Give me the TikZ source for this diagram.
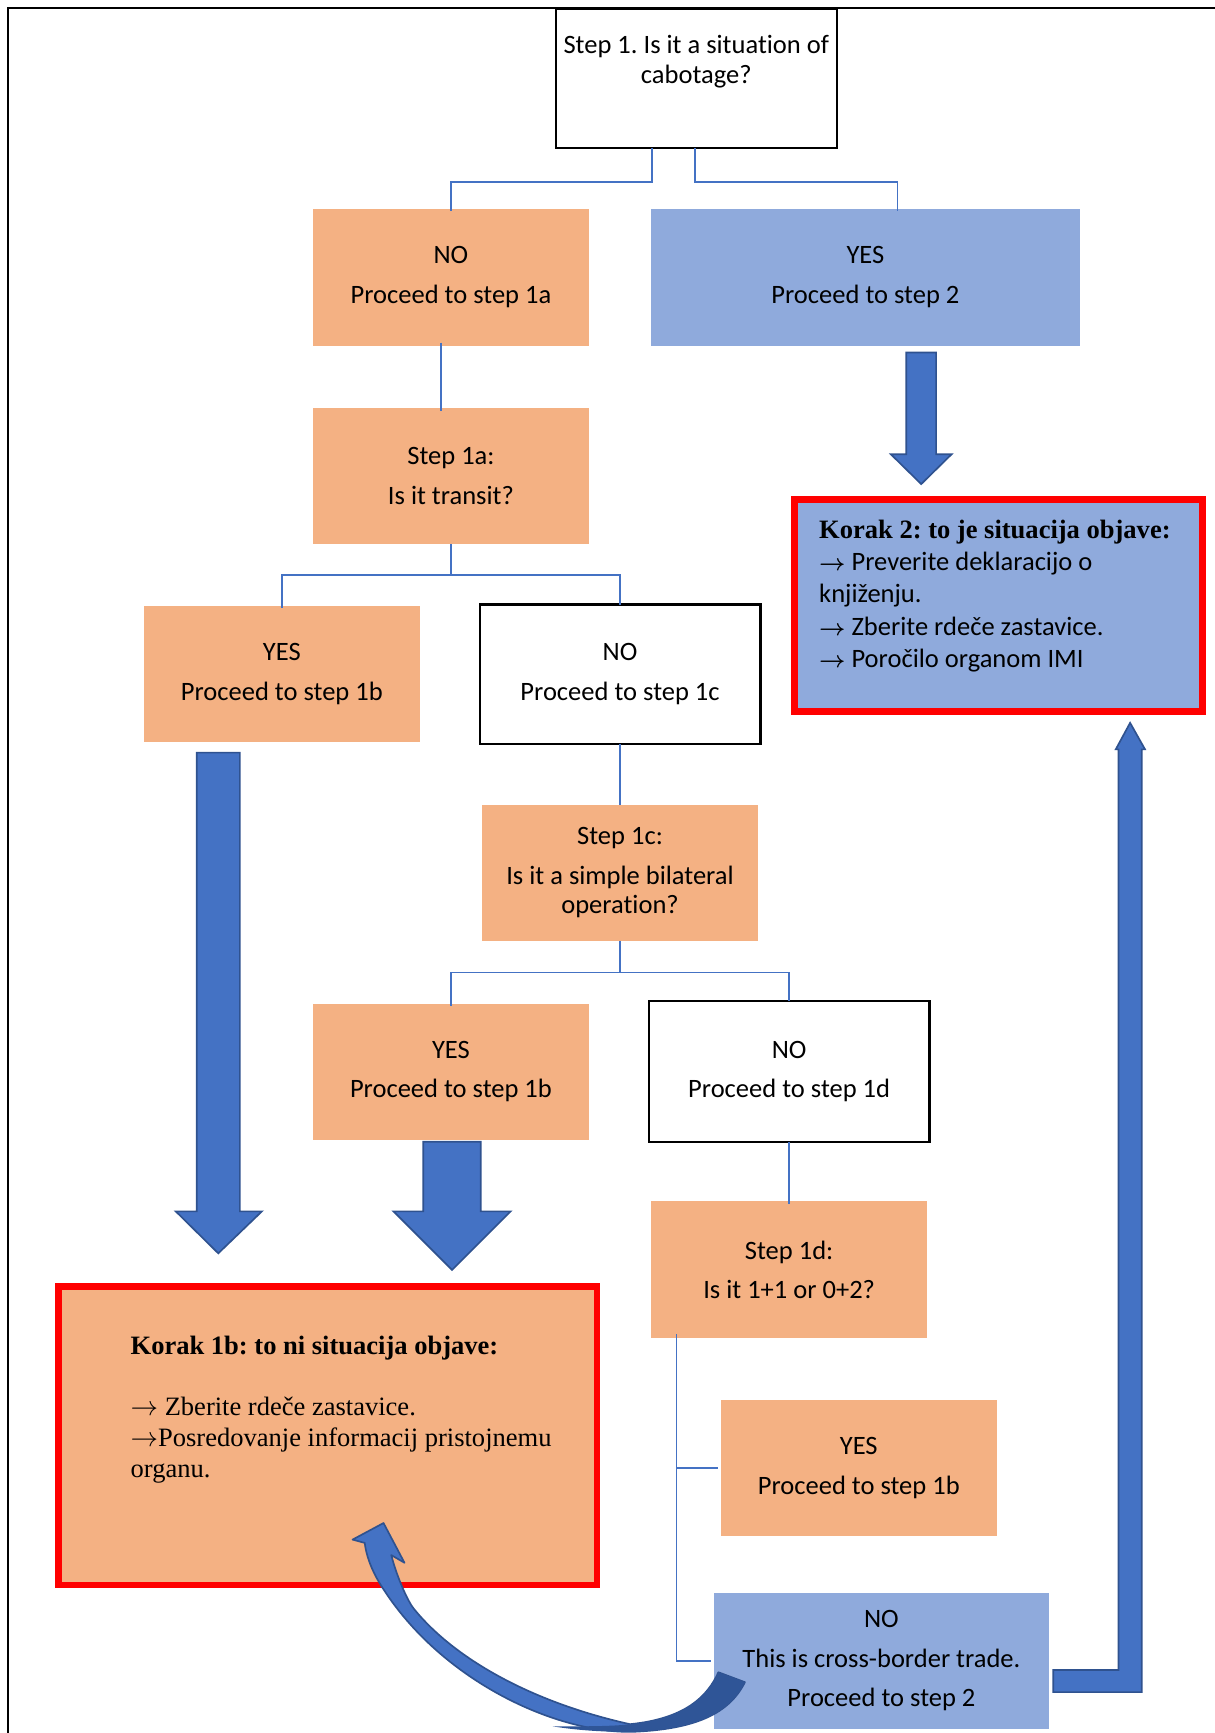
\documentclass[tikz,border=0pt]{standalone}
\usepackage{fontspec}
\setmainfont{Carlito}[Ligatures={NoCommon}]
\newfontfamily\tnr{Liberation Serif}
\definecolor{orng}{HTML}{F4B183}
\definecolor{lblue}{HTML}{8FAADC}
\definecolor{abl}{HTML}{4472C4}
\definecolor{abldk}{HTML}{2F528F}
\definecolor{curvdk}{HTML}{2F5597}
\definecolor{redb}{HTML}{FF0000}
\newcommand{\sarr}{{\fontsize{21}{21}\selectfont\boldmath$\rightarrow$}}
\newcommand{\tarr}{$\rightarrow$}
\tikzset{
  base/.style={rectangle, inner sep=0pt, outer sep=0pt, align=center, font=\fontsize{24}{27}\selectfont},
  obox/.style={base, fill=orng},
  bbox/.style={base, fill=lblue},
  wbox/.style={base, fill=white, draw=black, line width=2pt},
  rbox/.style={rectangle, inner sep=0pt, outer sep=0pt, draw=redb, line width=6pt},
  conn/.style={draw=abl, line width=1.6pt},
  fat/.style={fill=abl, draw=abldk, line width=1.5pt, line join=miter},
}
\begin{document}
\frenchspacing
\begin{tikzpicture}[x=1pt,y=-1pt]
\useasboundingbox (0,0) rectangle (1099,1568);
% frame
\draw[line width=2pt, black] (7,1568) -- (7,7) -- (1099,7);

% nodes
\node[wbox, minimum width=254, minimum height=126] (s1) at (630,71) {};
\node[base, anchor=north] (s1t) at (630,32) {Step 1. Is it a situation of\\cabotage?};
\node[obox, minimum width=250, minimum height=124] (no1) at (408,251) {NO\\[9pt]Proceed to step 1a};
\node[bbox, minimum width=388, minimum height=124] (yes1) at (783,251) {YES\\[9pt]Proceed to step 2};
\node[obox, minimum width=250, minimum height=123] (s1a) at (408,430.5) {Step 1a:\\[9pt]Is it transit?};
\node[obox, minimum width=250, minimum height=123] (yes1a) at (255,609.5) {YES\\[9pt]Proceed to step 1b};
\node[wbox, minimum width=254, minimum height=126] (no1a) at (561,610) {NO\\[9pt]Proceed to step 1c};
\node[obox, minimum width=250, minimum height=123] (s1c) at (561,789.5) {Step 1c:\\[9pt]Is it a simple bilateral\\operation?};
\node[obox, minimum width=250, minimum height=123] (yes1c) at (408,969.5) {YES\\[9pt]Proceed to step 1b};
\node[wbox, minimum width=254, minimum height=127] (no1c) at (714,969.5) {NO\\[9pt]Proceed to step 1d};
\node[obox, minimum width=250, minimum height=124] (s1d) at (714,1149) {Step 1d:\\[9pt]Is it 1+1 or 0+2?};
\node[obox, minimum width=250, minimum height=123] (yes1d) at (777,1328.5) {YES\\[9pt]Proceed to step 1b};
\node[bbox, minimum width=303, minimum height=123] (no1d) at (797.5,1502.5) {NO\\[9pt]This is cross-border trade.\\[9pt]Proceed to step 2};

\node[rbox, fill=orng, minimum width=487, minimum height=270] (k1b) at (296.5,1299) {};
\node[inner sep=0pt, anchor=north west, align=left, font=\tnr\fontsize{24}{28}\selectfont] (k1bt) at (118,1209)
  {\bfseries Korak 1b: to ni situacija objave:\\[27pt]
   \tarr{} Zberite rdeče zastavice.\\
   \tarr{}Posredovanje informacij pristojnemu\\
   organu.};
\node[rbox, fill=lblue, minimum width=369, minimum height=192] (k2) at (903.5,548) {};
\node[inner sep=0pt, anchor=north west, align=left, font=\fontsize{24}{29.3}\selectfont] (k2t) at (741,470)
  {{\tnr\bfseries Korak 2: to je situacija objave:}\\
   \sarr{} Preverite deklaracijo o\\
   knjiženju.\\
   \sarr{} Zberite rdeče zastavice.\\
   \sarr{} Poročilo organom IMI};

% thin connectors
\draw[conn] ([xshift=-40]s1.south) -- ++(0,31) -| ([yshift=-2]no1.north);
\draw[conn] ([xshift=-1]s1.south) -- ++(0,31) -| ([xshift=29,yshift=-2]yes1.north);
\draw[conn] ([xshift=-9,yshift=3]no1.south) -- ([xshift=-9,yshift=-3]s1a.north);
\draw[conn] (s1a.south) -- ++(0,28) coordinate (j1a) -| ([yshift=-2]yes1a.north);
\draw[conn] (j1a) -| (no1a.north);
\draw[conn] (no1a.south) -- (s1c.north);
\draw[conn] (s1c.south) -- ++(0,29) coordinate (j1c) -| ([yshift=-2]yes1c.north);
\draw[conn] (j1c) -| (no1c.north);
\draw[conn] (no1c.south) -- ([yshift=-2]s1d.north);
\draw[conn] ([xshift=-102,yshift=4]s1d.south) coordinate (j1d) |- ([xshift=-3]no1d.west);
\draw[conn] (j1d |- yes1d.west) -- ([xshift=-2]yes1d.west);

% fat arrows
\draw[fat] (820,319) -- (847,319) -- (847,411) -- (861,411) -- (833.5,438) -- (806,411) -- (820,411) -- cycle;
\draw[fat] (178,681) -- (217,681) -- (217,1096) -- (237,1096) -- (197.5,1134) -- (159,1096) -- (178,1096) -- cycle;
\draw[fat] (383,1033) -- (435,1033) -- (435,1096) -- (462,1096) -- (409,1149) -- (356,1096) -- (383,1096) -- cycle;
\draw[fat] (953,1511) -- (1012,1511) -- (1012,678) -- (1009.5,678) -- (1022.5,654) -- (1036,678) -- (1033,678) -- (1033,1531) -- (953,1531) -- cycle;

% curved arrow
\draw[fat, line join=round] (674,1522) .. controls (660,1550) and (630,1565) .. (570,1567)
  .. controls (500,1567) and (400,1520) .. (347,1438)
  .. controls (335,1420) and (331,1405) .. (330,1396)
  -- (319,1393) -- (347,1378) -- (366,1414) -- (354,1407)
  .. controls (360,1430) and (370,1450) .. (374,1455)
  .. controls (410,1500) and (480,1540) .. (570,1560)
  .. controls (620,1555) and (640,1535) .. (650,1513) -- cycle;
\fill[curvdk] (674,1522) .. controls (660,1550) and (630,1565) .. (570,1567)
  .. controls (540,1567) and (520,1565) .. (500,1562)
  .. controls (530,1562) and (555,1562) .. (570,1560)
  .. controls (620,1555) and (640,1535) .. (650,1513) -- cycle;
\end{tikzpicture}
\end{document}
